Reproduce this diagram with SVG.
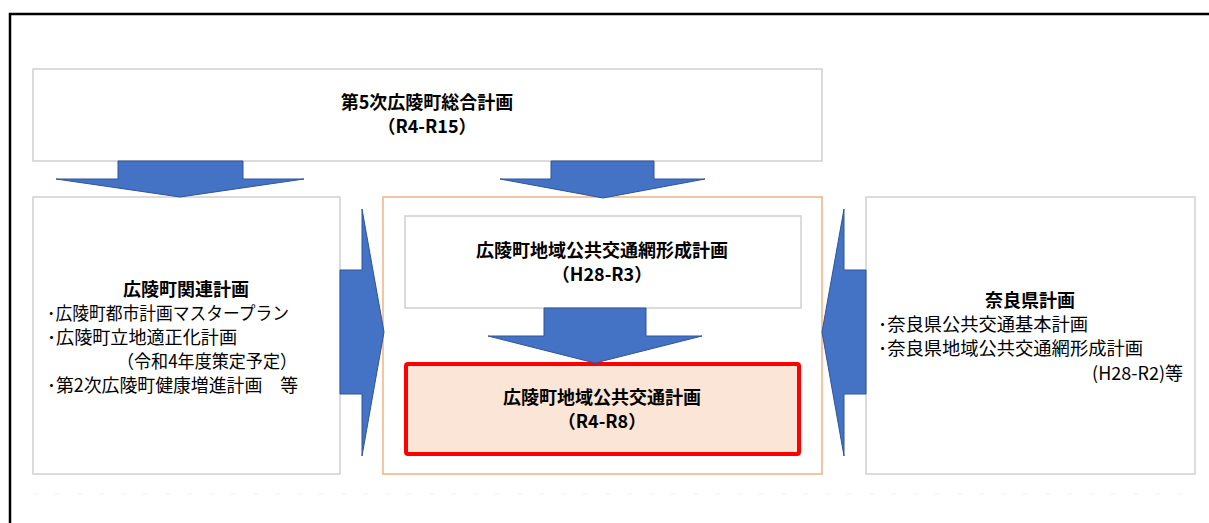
<svg xmlns="http://www.w3.org/2000/svg" width="1209" height="523" viewBox="0 0 1209 523">
<style>
text{font-family:"Noto Sans CJK JP","Noto Sans",sans-serif;font-size:18px;fill:#000}
.b{font-weight:bold}
.c{text-anchor:middle}
.e{text-anchor:end}
.box{fill:#fff;stroke:#d0d0d0;stroke-width:1.5}
.arr{fill:#4472c4;stroke:#2f5597;stroke-width:1}
</style>
<rect width="1209" height="523" fill="#fff"/>
<path d="M10,525 V14 H1211" fill="none" stroke="#000" stroke-width="2.5"/>
<line x1="33" y1="494" x2="1195" y2="494" stroke="#f3f3f3" stroke-width="1" stroke-dasharray="5 17"/>

<g id="sogo">
<rect class="box" x="33" y="69" width="789" height="92"/>
<text class="b c" x="427" y="109">第5次広陵町総合計画</text>
<text class="b c" x="427" y="133">（R4-R15）</text>
</g>

<g id="kanren">
<rect class="box" x="33" y="197" width="307" height="277"/>
<text class="b c" x="186" y="296">広陵町関連計画</text>
<text x="47" y="320" textLength="242" lengthAdjust="spacingAndGlyphs">･広陵町都市計画マスタープラン</text>
<text x="47" y="344" textLength="190" lengthAdjust="spacingAndGlyphs">･広陵町立地適正化計画</text>
<text x="117" y="368" textLength="180" lengthAdjust="spacingAndGlyphs">（令和4年度策定予定）</text>
<text x="47" y="392" textLength="251" lengthAdjust="spacingAndGlyphs">･第2次広陵町健康増進計画　等</text>
</g>

<g id="center">
<rect x="383" y="197" width="439" height="277" fill="#fff" stroke="#f4b183" stroke-width="1.5"/>
</g>

<g id="mouke">
<rect class="box" x="405" y="216" width="396" height="92"/>
<text class="b c" x="602" y="257">広陵町地域公共交通網形成計画</text>
<text class="b c" x="602" y="281">（H28-R3）</text>
</g>

<g id="koutsu">
<rect x="406" y="364" width="393" height="90" rx="2" fill="#fbe5d6" stroke="#ff0000" stroke-width="4"/>
<text class="b c" x="602" y="404">広陵町地域公共交通計画</text>
<text class="b c" x="602" y="428">（R4-R8）</text>
</g>

<g id="nara">
<rect class="box" x="866" y="197" width="329" height="277"/>
<text class="b c" x="1030" y="307">奈良県計画</text>
<text x="878" y="331" textLength="210" lengthAdjust="spacingAndGlyphs">･奈良県公共交通基本計画</text>
<text x="878" y="355" textLength="265" lengthAdjust="spacingAndGlyphs">･奈良県地域公共交通網形成計画</text>
<text class="e" x="1183" y="380">(H28-R2)等</text>
</g>

<g id="connectors">
<polygon class="arr" points="118,161 243,161 243,179 304,179 180,197 56,179 118,179"/>
<polygon class="arr" points="551,161 654,161 654,179 705,179 603,198 500,179 551,179"/>
<polygon class="arr" points="544,308 646,308 646,336 702,336 595,363 488,336 544,336"/>
<polygon class="arr" points="340,270 362,270 362,209 384,332 362,456 362,394 340,394"/>
<polygon class="arr" points="866,270 844,270 844,209 822,332 844,456 844,394 866,394"/>
</g>
</svg>
